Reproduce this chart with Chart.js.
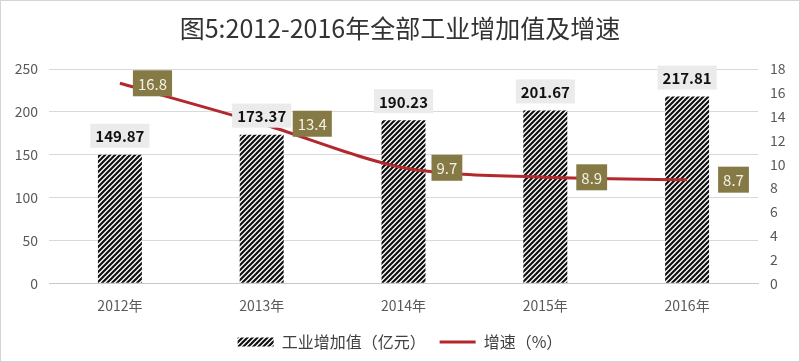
<!DOCTYPE html>
<html>
<head>
<meta charset="utf-8">
<script src="https://cdn.jsdelivr.net/npm/chart.js@4/dist/chart.umd.min.js"></script>
<style>
  html, body { margin: 0; padding: 0; background: #fff; }
  .chart-container { width: 800px; height: 362px; position: relative; }
  .frame { position: absolute; left: 0; top: 0; right: 0; bottom: 0; border: 1px solid #D4D4D4; pointer-events: none; }
</style>
</head>
<body>
<div class="chart-container">
    <canvas id="maingraph"></canvas>
    <div class="frame"></div>
</div>
<script>
// data
var years = ['2012年', '2013年', '2014年', '2015年', '2016年'];
var addedValue = [149.87, 173.37, 190.23, 201.67, 217.81];   // 亿元
var growthRate = [16.8, 13.4, 9.7, 8.9, 8.7];                 // %
var leftTicks = [0, 50, 100, 150, 200, 250];
var rightTicks = [0, 2, 4, 6, 8, 10, 12, 14, 16, 18];

var FONT = '"Noto Sans CJK SC", "Noto Sans", sans-serif';
var RED = '#B3282D';
var OLIVE = '#857A45';

// diagonal hatch like the excel fill
function makeHatch() {
    var c = document.createElement('canvas');
    var s = 5;
    c.width = s; c.height = s;
    var g = c.getContext('2d');
    g.fillStyle = '#fff';
    g.fillRect(0, 0, s, s);
    g.strokeStyle = '#111';
    g.lineWidth = 2.2;
    g.beginPath();
    g.moveTo(-1, s + 1); g.lineTo(s + 1, -1);
    g.moveTo(-1, 1); g.lineTo(1, -1);
    g.moveTo(s - 1, s + 1); g.lineTo(s + 1, s - 1);
    g.stroke();
    return g.createPattern(c, 'repeat');
}
var hatch = makeHatch();

// value labels: grey boxes above bars, olive boxes right of the line points
var valueLabels = {
    id: 'valueLabels',
    afterDatasetsDraw: function(chart) {
        var ctx = chart.ctx;
        ctx.save();
        ctx.textAlign = 'center';
        ctx.textBaseline = 'middle';

        var barMeta = chart.getDatasetMeta(0);
        ctx.font = 'bold 15px ' + FONT;
        barMeta.data.forEach(function(bar, i) {
            var txt = addedValue[i].toFixed(2);
            var w = ctx.measureText(txt).width + 10;
            var cy = bar.y - 19;
            ctx.fillStyle = '#EBEBEB';
            ctx.fillRect(bar.x - w / 2, cy - 12, w, 24);
            ctx.fillStyle = '#111';
            ctx.fillText(txt, bar.x, cy + 1);
        });

        var lineMeta = chart.getDatasetMeta(1);
        var offsets = [13, 31, 28, 31, 31];
        ctx.font = '15px ' + FONT;
        lineMeta.data.forEach(function(pt, i) {
            var txt = growthRate[i].toFixed(1);
            var w = ctx.measureText(txt).width + 10;
            var left = pt.x + offsets[i];
            ctx.fillStyle = OLIVE;
            ctx.fillRect(left, pt.y - 13, w, 26);
            ctx.fillStyle = '#F4F1E4';
            ctx.fillText(txt, left + w / 2, pt.y + 1);
        });
        ctx.restore();
    }
};

var ctx = document.getElementById('maingraph');
var myChart = new Chart(ctx, {
    data: {
        labels: years,
        datasets: [
            {
                type: 'bar',
                label: '工业增加值（亿元）',
                data: addedValue,
                backgroundColor: hatch,
                borderWidth: 0,
                barPercentage: 0.31,
                categoryPercentage: 1,
                yAxisID: 'y',
                order: 2
            },
            {
                type: 'line',
                label: '增速（%）',
                data: growthRate,
                borderColor: RED,
                backgroundColor: RED,
                borderWidth: 3,
                pointRadius: 0,
                tension: 0.3,
                yAxisID: 'y1',
                order: 1
            }
        ]
    },
    plugins: [valueLabels],
    options: {
        responsive: true,
        maintainAspectRatio: false,
        animation: false,
        layout: { padding: { left: 0, right: 0, top: 0, bottom: 2 } },
        plugins: {
            tooltip: { enabled: false },
            title: {
                display: true,
                text: '图5:2012-2016年全部工业增加值及增速',
                color: '#333',
                font: { family: FONT, size: 25, weight: 'normal' },
                padding: { top: 13, bottom: 26 }
            },
            legend: {
                position: 'bottom',
                labels: {
                    color: '#404040',
                    font: { family: FONT, size: 16 },
                    usePointStyle: true,
                    pointStyleWidth: 36,
                    boxHeight: 9,
                    padding: 14,
                    generateLabels: function(chart) {
                        return [
                            { text: '工业增加值（亿元）', fillStyle: hatch, strokeStyle: 'rgba(0,0,0,0)', lineWidth: 0, pointStyle: 'rect', fontColor: '#404040', datasetIndex: 0 },
                            { text: '增速（%）', fillStyle: RED, strokeStyle: RED, lineWidth: 3, pointStyle: 'line', fontColor: '#404040', datasetIndex: 1 }
                        ];
                    }
                }
            }
        },
        scales: {
            x: {
                grid: { display: false },
                border: { display: true, color: '#C8C8C8' },
                ticks: { color: '#595959', font: { family: FONT, size: 14 }, padding: 6 }
            },
            y: {
                position: 'left',
                min: 0,
                max: 250,
                afterBuildTicks: function(scale) {
                    scale.ticks = leftTicks.map(function(v) { return { value: v }; });
                },
                afterFit: function(scale) { scale.width = 49; },
                grid: { color: '#D9D9D9', drawTicks: false },
                border: { display: false },
                ticks: { color: '#595959', font: { family: FONT, size: 14 }, padding: 11 }
            },
            y1: {
                position: 'right',
                min: 0,
                max: 18,
                afterBuildTicks: function(scale) {
                    scale.ticks = rightTicks.map(function(v) { return { value: v }; });
                },
                afterFit: function(scale) { scale.width = 42; },
                grid: { drawOnChartArea: false, drawTicks: false },
                border: { display: false },
                ticks: { color: '#595959', font: { family: FONT, size: 14 }, padding: 12, align: 'center' }
            }
        }
    }
});
</script>
</body>
</html>
